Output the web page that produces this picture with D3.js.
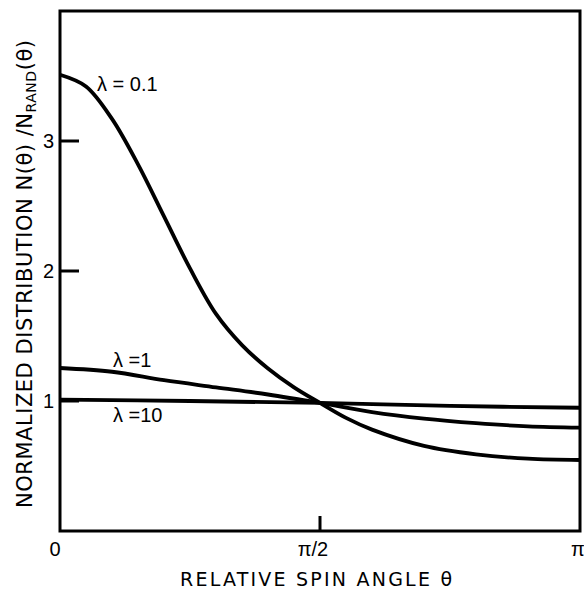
<!DOCTYPE html>
<html>
<head>
<meta charset="utf-8">
<script src="https://cdn.jsdelivr.net/npm/d3@7"></script>
<style>
  html, body { margin: 0; padding: 0; background: #fff; }
  svg { display: block; }
  text { font-family: "Liberation Sans", Arial, sans-serif; fill: #000; }
  text.title { font-family: "DejaVu Sans", "Liberation Sans", sans-serif; }
</style>
</head>
<body>
<svg id="chart" width="584" height="594"></svg>
<script>
// Angle theta expressed as a fraction of pi
const thetaLam01 = [0, 0.05, 0.1, 0.15, 0.2, 0.25, 0.3, 0.35, 0.4, 0.45, 0.5, 0.55, 0.6, 0.7, 0.8, 0.9, 1.0];
const valuesLam01 = [3.51, 3.42, 3.17, 2.82, 2.42, 2.02, 1.67, 1.43, 1.25, 1.105, 0.985, 0.87, 0.78, 0.655, 0.59, 0.556, 0.546];

const thetaLam1 = [0, 0.1, 0.2, 0.3, 0.4, 0.5, 0.6, 0.7, 0.8, 0.9, 1.0];
const valuesLam1 = [1.254, 1.225, 1.16, 1.105, 1.05, 0.985, 0.915, 0.865, 0.83, 0.805, 0.795];

const thetaLam10 = [0, 0.25, 0.5, 0.75, 1.0];
const valuesLam10 = [1.01, 1.0, 0.985, 0.962, 0.948];

const seriesLabels = ["λ = 0.1", "λ =1", "λ =10"];

const xTickValues = [0, 0.5, 1];
const xTickLabels = ["0", "π/2", "π"];
const yTickValues = [1, 2, 3];
const yTickLabels = ["1", "2", "3"];

const svg = d3.select("#chart");
const x = d3.scaleLinear().domain([0, 1]).range([60, 580]);
const y = d3.scaleLinear().domain([0, 4]).range([531, 11]);

// frame
svg.append("rect")
  .attr("x", x(0)).attr("y", y(4))
  .attr("width", x(1) - x(0)).attr("height", y(0) - y(4))
  .attr("fill", "none").attr("stroke", "#000").attr("stroke-width", 3);

// y ticks (inward)
svg.selectAll(".ytick").data(yTickValues).enter().append("line")
  .attr("x1", x(0)).attr("x2", x(0) + 19)
  .attr("y1", d => y(d)).attr("y2", d => y(d))
  .attr("stroke", "#000").attr("stroke-width", 3);

svg.selectAll(".ylab").data(yTickValues).enter().append("text")
  .attr("x", x(0) - 6).attr("y", d => y(d) + 7)
  .attr("text-anchor", "end").attr("font-size", 20)
  .text((d, i) => yTickLabels[i]);

// x tick at pi/2 (inward)
svg.append("line")
  .attr("x1", x(0.5)).attr("x2", x(0.5))
  .attr("y1", y(0)).attr("y2", y(0) - 15)
  .attr("stroke", "#000").attr("stroke-width", 3);

const xLabOffsets = [-5, -7, -9];
svg.selectAll(".xlab").data(xTickValues).enter().append("text")
  .attr("x", (d, i) => x(d) + xLabOffsets[i]).attr("y", 556)
  .attr("text-anchor", (d, i) => i === 2 ? "start" : "middle").attr("font-size", 20)
  .text((d, i) => xTickLabels[i]);

// curves
const line = d3.line().x(d => x(d[0])).y(d => y(d[1])).curve(d3.curveCatmullRom.alpha(0.5));
const series = [
  d3.zip(thetaLam01, valuesLam01),
  d3.zip(thetaLam1, valuesLam1),
  d3.zip(thetaLam10, valuesLam10)
];
svg.selectAll(".curve").data(series).enter().append("path")
  .attr("d", line).attr("fill", "none")
  .attr("stroke", "#000").attr("stroke-width", 3.8)
  .attr("stroke-linejoin", "round");

// series labels
const labelPos = [[97, 91], [113, 367], [113, 422]];
svg.selectAll(".slab").data(seriesLabels).enter().append("text")
  .attr("x", (d, i) => labelPos[i][0]).attr("y", (d, i) => labelPos[i][1])
  .attr("font-size", 20)
  .text(d => d);

// x axis title
svg.append("text").attr("class", "title")
  .attr("x", 180).attr("y", 586)
  .attr("font-size", 19)
  .attr("textLength", 272).attr("lengthAdjust", "spacing")
  .text("RELATIVE  SPIN  ANGLE  θ");

// y axis title
const yt = svg.append("text").attr("class", "title")
  .attr("transform", "translate(32,508) rotate(-90)")
  .attr("font-size", 21)
  .attr("textLength", 468).attr("lengthAdjust", "spacing");
yt.append("tspan").text("NORMALIZED DISTRIBUTION N(θ) /N");
yt.append("tspan").attr("font-size", 14).attr("dy", 4).text("RAND");
yt.append("tspan").attr("dy", -4).text("(θ)");
</script>
</body>
</html>
